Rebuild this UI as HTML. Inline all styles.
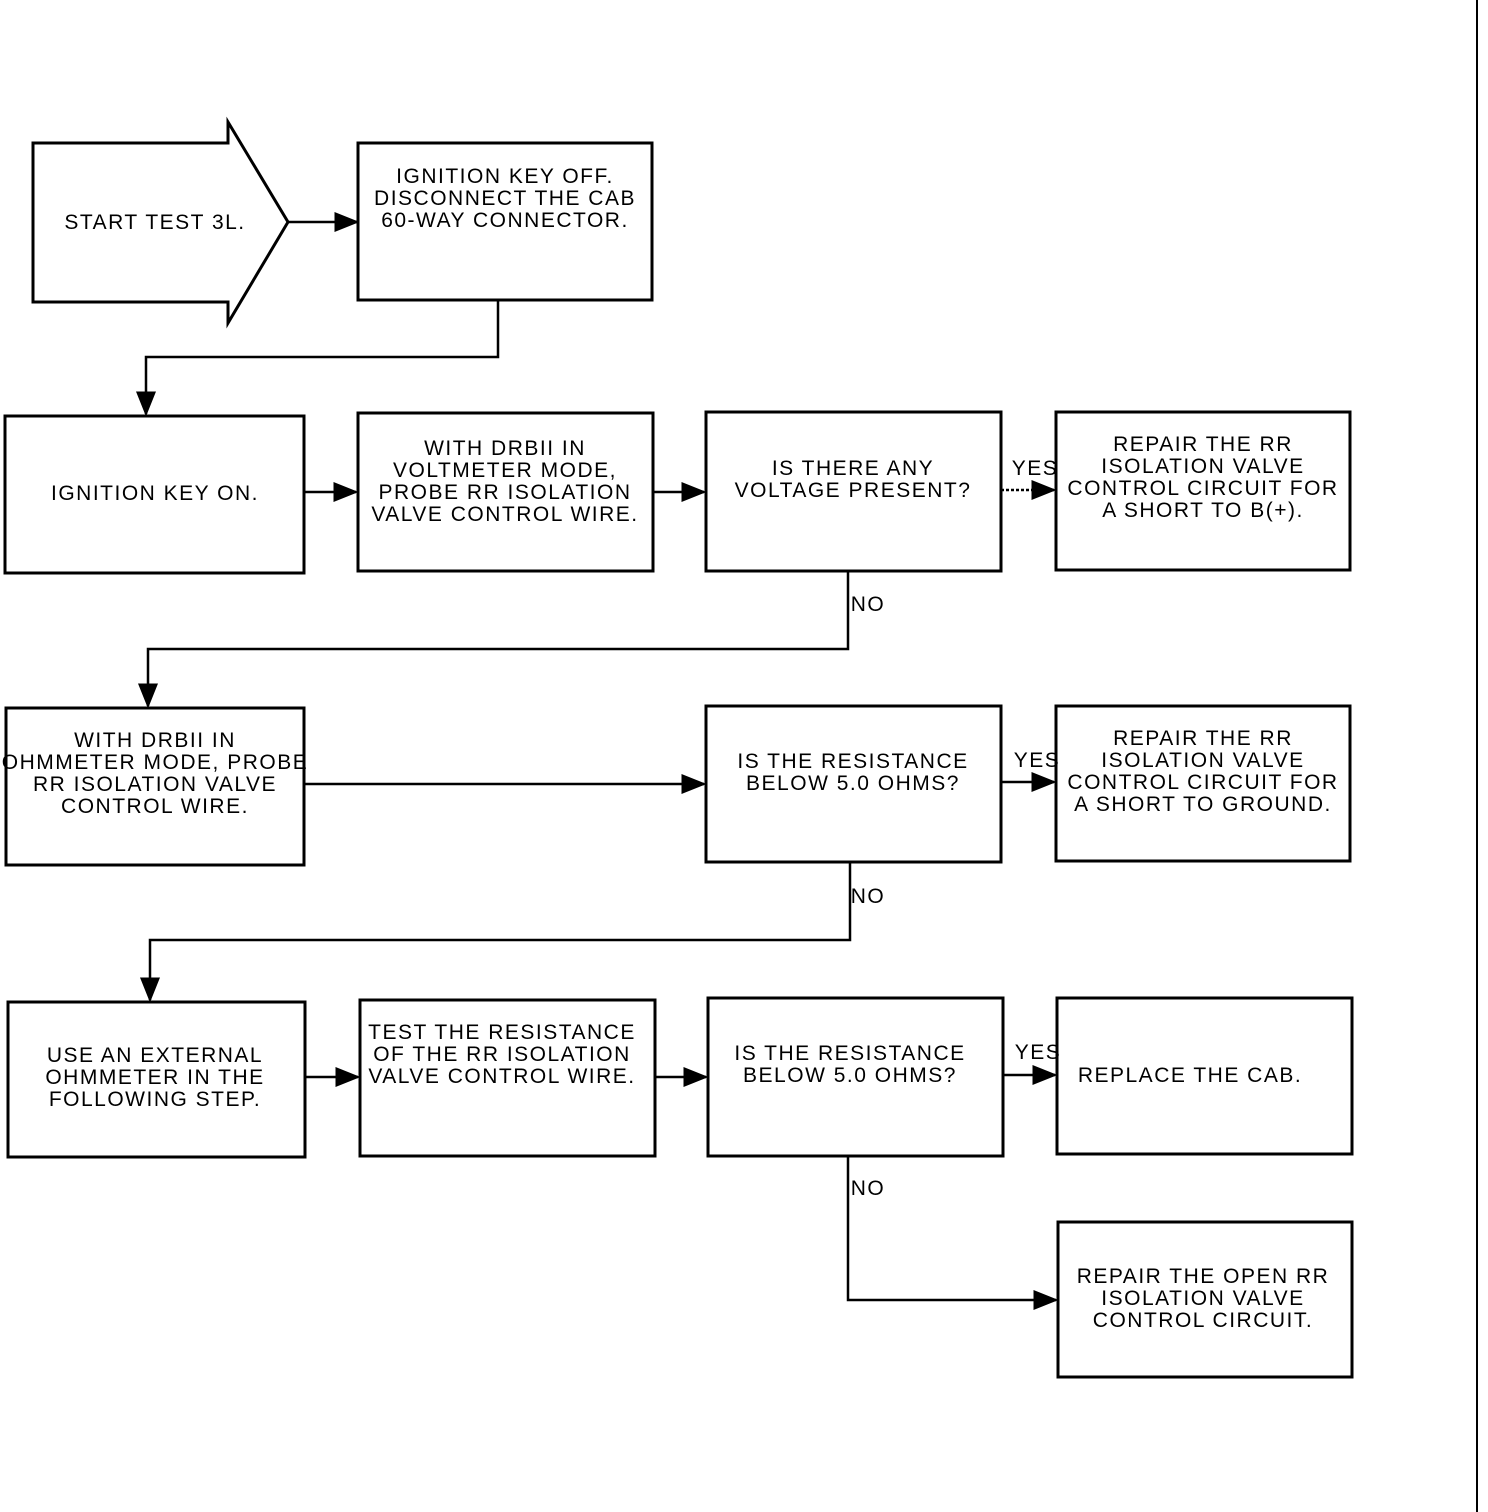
<!DOCTYPE html>
<html><head><meta charset="utf-8"><style>
html,body{margin:0;padding:0;background:#fff;}
svg{display:block}
text{font-family:"Liberation Sans Narrow","Liberation Sans",sans-serif;font-size:21px;fill:#000;text-anchor:middle;letter-spacing:1.5px}
</style></head><body>
<svg width="1488" height="1512" viewBox="0 0 1488 1512" xmlns="http://www.w3.org/2000/svg">
<defs><marker id="a" markerWidth="10" markerHeight="8" refX="9" refY="4" orient="auto"><path d="M0,0 L10,4 L0,8 z" fill="#000"/></marker></defs>
<g fill="none" stroke="#000" stroke-width="3">
<path d="M33,143 H228 V122 L288,222 L228,323 V302 H33 Z"/>
<rect x="358" y="143" width="294" height="157"/>
<rect x="5" y="416" width="299" height="157"/>
<rect x="358" y="413" width="295" height="158"/>
<rect x="706" y="412" width="295" height="159"/>
<rect x="1056" y="412" width="294" height="158"/>
<rect x="6" y="708" width="298" height="157"/>
<rect x="706" y="706" width="295" height="156"/>
<rect x="1056" y="706" width="294" height="155"/>
<rect x="8" y="1002" width="297" height="155"/>
<rect x="360" y="1000" width="295" height="156"/>
<rect x="708" y="998" width="295" height="158"/>
<rect x="1057" y="998" width="295" height="156"/>
<rect x="1058" y="1222" width="294" height="155"/>
<line x1="1477" y1="0" x2="1477" y2="1512" stroke-width="2"/>
</g>
<g fill="none" stroke="#000" stroke-width="2.5" marker-end="url(#a)">
<path d="M288,222 H357"/>
<path d="M498,300 V357 H146 V414"/>
<path d="M304,492 H356"/>
<path d="M653,492 H704"/>
<path d="M1001,490 H1054" stroke-dasharray="3,2"/>
<path d="M848,571 V649 H148 V706"/>
<path d="M304,784 H704"/>
<path d="M1001,782 H1054"/>
<path d="M850,862 V940 H150 V1000"/>
<path d="M305,1077 H358"/>
<path d="M655,1077 H706"/>
<path d="M1003,1075 H1055"/>
<path d="M848,1156 V1300 H1056"/>
</g>
<text x="155" y="229">START TEST 3L.</text>
<text x="505" y="183">IGNITION KEY OFF.</text>
<text x="505" y="205">DISCONNECT THE CAB</text>
<text x="505" y="227">60-WAY CONNECTOR.</text>
<text x="155" y="500">IGNITION KEY ON.</text>
<text x="505" y="455">WITH DRBII IN</text>
<text x="505" y="477">VOLTMETER MODE,</text>
<text x="505" y="499">PROBE RR ISOLATION</text>
<text x="505" y="521">VALVE CONTROL WIRE.</text>
<text x="853" y="475">IS THERE ANY</text>
<text x="853" y="497">VOLTAGE PRESENT?</text>
<text x="1203" y="451">REPAIR THE RR</text>
<text x="1203" y="473">ISOLATION VALVE</text>
<text x="1203" y="495">CONTROL CIRCUIT FOR</text>
<text x="1203" y="517">A SHORT TO B(+).</text>
<text x="155" y="747">WITH DRBII IN</text>
<text x="155" y="769">OHMMETER MODE, PROBE</text>
<text x="155" y="791">RR ISOLATION VALVE</text>
<text x="155" y="813">CONTROL WIRE.</text>
<text x="853" y="768">IS THE RESISTANCE</text>
<text x="853" y="790">BELOW 5.0 OHMS?</text>
<text x="1203" y="745">REPAIR THE RR</text>
<text x="1203" y="767">ISOLATION VALVE</text>
<text x="1203" y="789">CONTROL CIRCUIT FOR</text>
<text x="1203" y="811">A SHORT TO GROUND.</text>
<text x="155" y="1062">USE AN EXTERNAL</text>
<text x="155" y="1084">OHMMETER IN THE</text>
<text x="155" y="1106">FOLLOWING STEP.</text>
<text x="502" y="1039">TEST THE RESISTANCE</text>
<text x="502" y="1061">OF THE RR ISOLATION</text>
<text x="502" y="1083">VALVE CONTROL WIRE.</text>
<text x="850" y="1060">IS THE RESISTANCE</text>
<text x="850" y="1082">BELOW 5.0 OHMS?</text>
<text x="1190" y="1082">REPLACE THE CAB.</text>
<text x="1203" y="1283">REPAIR THE OPEN RR</text>
<text x="1203" y="1305">ISOLATION VALVE</text>
<text x="1203" y="1327">CONTROL CIRCUIT.</text>
<text x="1035" y="475">YES</text>
<text x="1037" y="767">YES</text>
<text x="1038" y="1059">YES</text>
<text x="868" y="611">NO</text>
<text x="868" y="903">NO</text>
<text x="868" y="1195">NO</text>
</svg>
</body></html>
